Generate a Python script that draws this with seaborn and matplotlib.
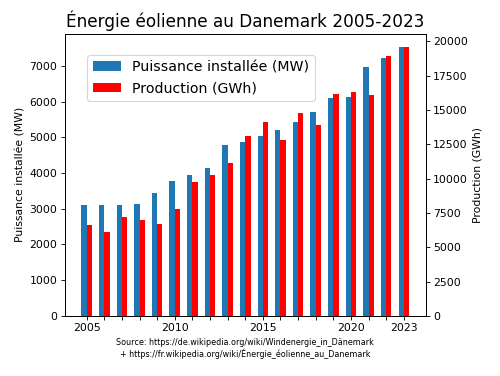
# -*- coding: utf-8 -*-
import numpy as np
import pandas as pd
import seaborn as sns
import matplotlib.pyplot as plt

years = np.arange(2005, 2024)
capacity_mw = [3100, 3100, 3090, 3140, 3440, 3780, 3930, 4140, 4790, 4870,
               5030, 5200, 5440, 5720, 6090, 6140, 6970, 7230, 7520]
production_gwh = [6610, 6110, 7170, 6980, 6720, 7810, 9770, 10270, 11120, 13080,
                  14130, 12780, 14780, 13900, 16160, 16330, 16060, 18900, 19560]
shown_years = [2005, 2010, 2015, 2020, 2023]

df = pd.DataFrame({"year": years, "mw": capacity_mw, "gwh": production_gwh})
bar_w = 0.3

fig, ax = plt.subplots(figsize=(6.4, 4.813), dpi=78.125)
fig.subplots_adjust(left=0.13, right=0.851, top=0.91, bottom=0.16)

# installed capacity on the left axis, shifted left of the year
sns.barplot(x=df["year"] - bar_w / 2, y=df["mw"], native_scale=True, width=bar_w,
            color="#1f77b4", saturation=1, errorbar=None, ax=ax)
ax.set_ylabel("Puissance installée (MW)")

# production on the right axis, shifted right
ax2 = ax.twinx()
sns.barplot(x=df["year"] + bar_w / 2, y=df["gwh"], native_scale=True, width=bar_w,
            color="red", saturation=1, errorbar=None, ax=ax2)
ax2.set_ylabel("Production (GWh)")

ax.set_xticks(years, [str(y) if y in shown_years else "" for y in years])
ax.set_xlim(years[0] - 1.23, years[-1] + 1.23)
ax.set_xlabel("Source: https://de.wikipedia.org/wiki/Windenergie_in_Dänemark\n"
              "+ https://fr.wikipedia.org/wiki/Énergie_éolienne_au_Danemark", fontsize=7.4)
ax.set_title("Énergie éolienne au Danemark 2005-2023", fontsize=15.5)

ax2.legend([ax.containers[0], ax2.containers[0]],
           ["Puissance installée (MW)", "Production (GWh)"],
           loc="upper left", bbox_to_anchor=(0.062, 0.926), borderaxespad=0, fontsize=13)

fig.savefig("out.png")
